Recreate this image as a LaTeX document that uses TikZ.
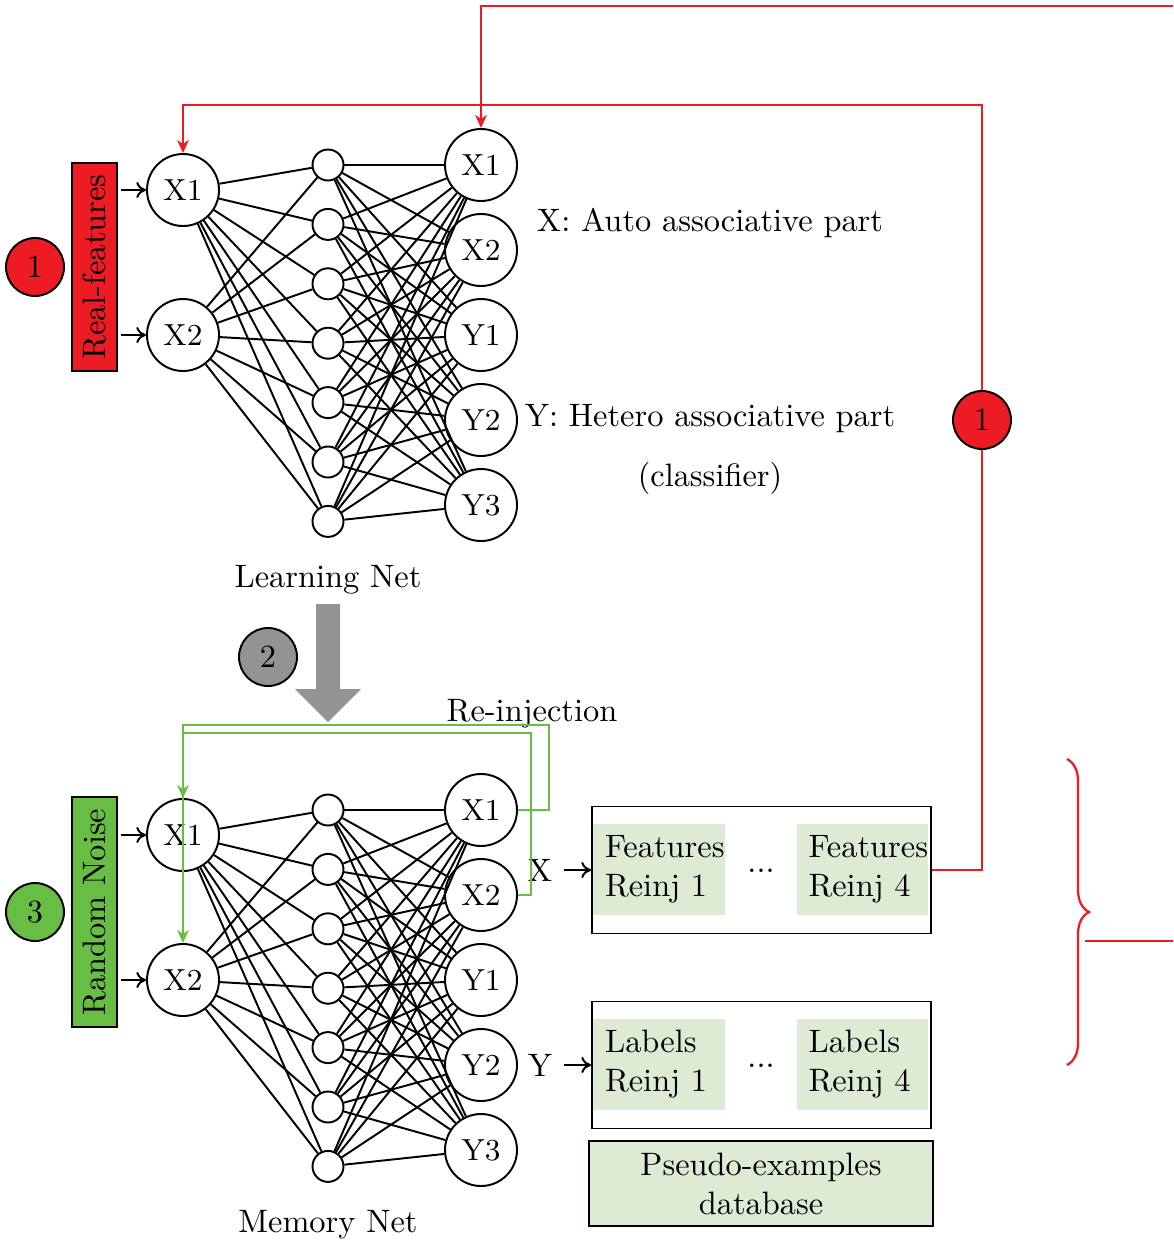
\documentclass[tikz,border=0pt]{standalone}
\usetikzlibrary{arrows.meta,decorations.pathreplacing,calc}
\newlength\pu \setlength\pu{0.3086pt}
\definecolor{myred}{RGB}{237,28,36}
\definecolor{mygreen}{RGB}{104,189,69}
\definecolor{lgreen}{RGB}{222,235,212}
\definecolor{mygray}{RGB}{147,147,147}
\tikzset{
 io/.style={circle,draw,line width=0.6pt,fill=white,minimum size=72\pu,inner sep=0pt,font=\fontsize{9.4}{11}\selectfont},
 hid/.style={circle,draw,line width=0.6pt,fill=white,minimum size=31\pu,inner sep=0pt},
 num/.style={circle,draw,line width=0.6pt,minimum size=58\pu,inner sep=0pt},
 wire/.style={line width=0.6pt},
 srcbox/.style={draw,line width=0.6pt,rotate=90,minimum height=45\pu,inner sep=0pt},
 redl/.style={draw=myred,line width=0.65pt},
 greenl/.style={draw=mygreen,line width=0.6pt},
 tipped/.style={-{Stealth[length=4pt,width=3.6pt,inset=1.2pt]}},
 cell/.style={fill=lgreen,minimum width=132\pu,minimum height=91\pu,inner sep=0pt,text width=108\pu,align=left},
 store/.style={draw,line width=0.6pt,minimum width=339\pu,minimum height=127\pu}
}
\newcommand\drawnet[2]{%
  \foreach \i/\yy in {1/190,2/335} \node[io] (#2in\i) at (183,\yy+#1) {X\i};
  \foreach \j in {1,...,7} \node[hid] (#2h\j) at (328,{165+59.4*(\j-1)+#1}) {};
  \foreach \k/\lab/\yy in {1/X1/165,2/X2/250,3/Y1/335,4/Y2/420,5/Y3/505} \node[io] (#2out\k) at (481,\yy+#1) {\lab};
  \foreach \i in {1,2} \foreach \j in {1,...,7} \draw[wire] (#2in\i) -- (#2h\j);
  \foreach \j in {1,...,7} \foreach \k in {1,...,5} \draw[wire] (#2h\j) -- (#2out\k);
}
\begin{document}
\begin{tikzpicture}[x=0.3086pt,y=-0.3086pt,font=\fontsize{10}{12}\selectfont]
\useasboundingbox (0,0) rectangle (1173,1243);

% ---- learning net
\drawnet{0}{l}
\node[srcbox,fill=myred,minimum width=208\pu] (rf) at (94.5,267) {Real-features};
\node[num,fill=myred] (n1) at (35,267) {1};
\draw[wire,-{To[length=3pt,width=5pt]}] ($(rf.south |- lin1)+(3,0)$) -- (lin1);
\draw[wire,-{To[length=3pt,width=5pt]}] ($(rf.south |- lin2)+(3,0)$) -- (lin2);
\node (xa) at (710,223) {X: Auto associative part};
\node (ya) at (710,419) {Y: Hetero associative part};
\node (cl) at (710,478) {(classifier)};
\node (ln) at (328,580) {Learning Net};

% ---- transfer arrow
\fill[mygray] (316,604) -- (340,604) -- (340,689) -- (361,689) -- (328,722) -- (295,689) -- (316,689) -- cycle;
\node[num,fill=mygray] (n2) at (268,657) {2};

% ---- memory net
\drawnet{645}{m}
\node[srcbox,fill=mygreen,minimum width=230\pu] (rn) at (94.5,912) {Random Noise};
\node[num,fill=mygreen] (n3) at (35,912) {3};
\draw[wire,-{To[length=3pt,width=5pt]}] ($(rn.south |- min1)+(3,0)$) -- (min1);
\draw[wire,-{To[length=3pt,width=5pt]}] ($(rn.south |- min2)+(3,0)$) -- (min2);
\node (mn) at (328,1225) {Memory Net};
\node (ri) at (532,714) {Re-injection};

% ---- stores
\node[store] (feat) at (761.5,870) {};
\node[cell] (f1) at (659,869.5) {Features\\Reinj 1};
\node[cell,minimum width=131\pu] (f4) at (862.5,869.5) {Features\\Reinj 4};
\node[anchor=base] (fd) at (761,872) {...};
\node[store] (lab) at (761.5,1065) {};
\node[cell] (l1) at (659,1064.5) {Labels\\Reinj 1};
\node[cell,minimum width=131\pu] (l4) at (862.5,1064.5) {Labels\\Reinj 4};
\node[anchor=base] (ld) at (761,1067) {...};
\node[draw,line width=0.6pt,fill=lgreen,minimum width=344\pu,minimum height=85\pu,align=center,inner sep=0pt] (db) at (761,1183.5) {Pseudo-examples\\database};

\node (xl) at (540,870) {X};
\node (yl) at (540,1065) {Y};
\draw[wire,-{To[length=3pt,width=5pt]}] (xl.east) -- (xl.east -| feat.west);
\draw[wire,-{To[length=3pt,width=5pt]}] (yl.east) -- (yl.east -| lab.west);

% ---- re-injection (green)
\draw[greenl,tipped] (mout1.east) -| (549,725) -| (min1.north);
\draw[greenl,tipped] (mout2.east) -| (531,733) -| (min2.north);

% ---- red feedback
\node[num,fill=myred] (r1) at (982,420) {1};
\draw[redl] (feat.east) -- (feat.east -| r1) -- (r1.south);
\draw[redl,tipped] (r1.north) -- (982,105) -| (lin1.north);
\coordinate (topR) at (1173,6);
\draw[redl,tipped] (topR) -| (lout1.north);

% ---- brace
\draw[myred,line width=0.7pt,decorate,decoration={brace,amplitude=22\pu}] (1067,759) -- (1067,1065);
\coordinate (brS) at (1085,941);
\coordinate (brE) at (1173,941);
\draw[redl,line width=0.7pt] (brS) -- (brE);
\end{tikzpicture}
\end{document}
